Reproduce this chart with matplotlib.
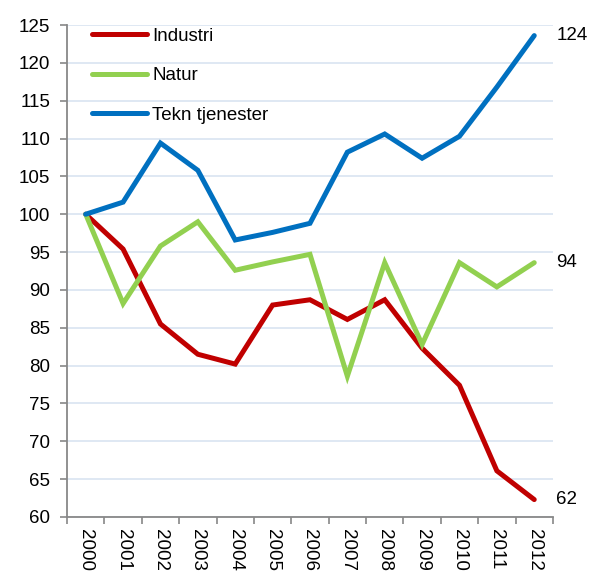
import matplotlib
matplotlib.use("Agg")
import matplotlib.pyplot as plt
import numpy as np

years = ["2000", "2001", "2002", "2003", "2004", "2005", "2006",
         "2007", "2008", "2009", "2010", "2011", "2012"]
industri = [100, 95.4, 85.5, 81.5, 80.2, 88.0, 88.7, 86.1, 88.7, 82.3, 77.4, 66.1, 62.3]
natur = [100, 88.2, 95.8, 99.0, 92.6, 93.7, 94.7, 78.6, 93.6, 82.8, 93.6, 90.4, 93.6]
tekn = [100, 101.6, 109.4, 105.8, 96.6, 97.6, 98.8, 108.2, 110.6, 107.4, 110.3, 116.8, 123.6]
series_names = ["Industri", "Natur", "Tekn tjenester"]
end_labels = ["62", "94", "124"]

plt.rcParams['font.family'] = ['Liberation Sans', 'DejaVu Sans']
FS = 13.5

fig = plt.figure(figsize=(5.92, 5.75), dpi=100)
ax = fig.add_axes([0.1132, 0.1009, 0.934 - 0.1132, 0.9565 - 0.1009])

x = np.arange(len(years))
colors = ["#c00000", "#92d050", "#0070c0"]
for vals, name, c in zip([industri, natur, tekn], series_names, colors):
    ax.plot(x, vals, color=c, lw=3.6, label=name, solid_capstyle='round',
            solid_joinstyle='miter', zorder=3)

ax.set_ylim(60, 125)
ax.set_yticks(np.arange(60, 126, 5))
ax.set_xlim(-0.5, len(years) - 0.5)
ax.set_xticks(np.arange(-0.5, len(years), 1.0))
ax.set_xticklabels([])
ax.set_xticks(x, minor=True)
ax.set_xticklabels(years, minor=True, rotation=-90, fontsize=FS)
ax.tick_params(axis='x', which='minor', length=0, pad=9)
ax.tick_params(axis='x', which='major', length=5, color='#888888', width=1.2)
ax.tick_params(axis='y', length=5, color='#888888', width=1.2, labelsize=FS, pad=7)

ax.grid(axis='y', color='#dce6f2', lw=1.3, zorder=0)
ax.set_axisbelow(True)
for s in ['top', 'right']:
    ax.spines[s].set_visible(False)
for s in ['left', 'bottom']:
    ax.spines[s].set_color('#888888')
    ax.spines[s].set_linewidth(1.3)

for vals, lab in zip([industri, natur, tekn], end_labels):
    ax.annotate(lab, xy=(x[-1], vals[-1]), xytext=(16, 0), textcoords='offset points',
                fontsize=FS, va='center', ha='left', annotation_clip=False)

leg = ax.legend(loc='upper left', frameon=False, fontsize=FS, handlelength=2.95,
                handletextpad=0.28, labelspacing=1.2, borderpad=0, borderaxespad=0,
                bbox_to_anchor=(0.051, 0.995))

fig.savefig("out.png", dpi=100)
